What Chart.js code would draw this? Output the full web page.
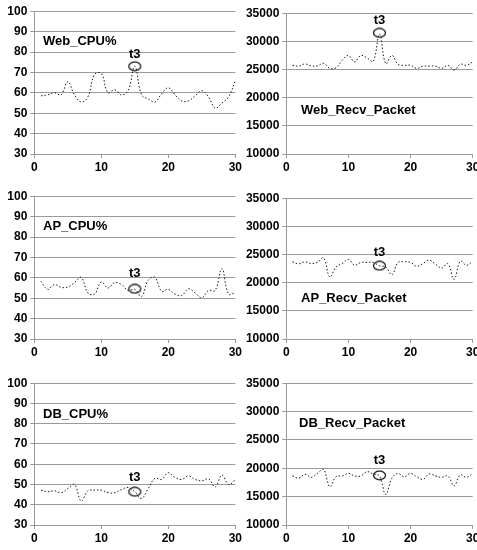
<!DOCTYPE html>
<html>
<head>
<meta charset="utf-8">
<script src="https://cdn.jsdelivr.net/npm/chart.js@4/dist/chart.umd.min.js"></script>
<style>
  html, body { margin: 0; padding: 0; background: #fff; width: 477px; height: 550px; overflow: hidden; }
  .panel { position: absolute; }
  .title { position: absolute; font: bold 13px "Liberation Sans", Arial, sans-serif; color: #000; white-space: nowrap; line-height: 13px; }
</style>
</head>
<body>
<script>
// ---------- data ----------
const times = [1,2,3,4,5,6,7,8,9,10,11,12,13,14,15,16,17,18,19,20,21,22,23,24,25,26,27,28,29,30];
const xTicks = [0, 10, 20, 30];
const cpuTicks = [30, 40, 50, 60, 70, 80, 90, 100];
const packetTicks = [10000, 15000, 20000, 25000, 30000, 35000];

const webCpu = [58.5, 59, 60, 59, 65.5, 59, 55.5, 58, 69, 69.5, 60, 61.5, 59, 61, 73, 59, 57, 55.5, 59.5, 62.5, 59, 56, 56, 58.5, 61, 58, 52.5, 55, 58, 66];
const webRecv = [25750, 25600, 26000, 25650, 25650, 26100, 25200, 25300, 26650, 27500, 26350, 27500, 27050, 26450, 31300, 26050, 27500, 25900, 25750, 25750, 25200, 25600, 25600, 25600, 25200, 25750, 24900, 25950, 25750, 26350];
const apCpu = [58.3, 54.3, 56.7, 55.3, 55.5, 57.7, 60.2, 52.6, 52, 58, 55, 57.7, 56.7, 53.8, 54.3, 50.8, 58.8, 60.2, 53.4, 54.3, 52, 51.3, 54.6, 52.6, 50.2, 53.8, 53.8, 64.5, 52, 52.8];
const apRecv = [23700, 23350, 23700, 23400, 23600, 24400, 21000, 22800, 23400, 24100, 23100, 23600, 23600, 23600, 23000, 22800, 21400, 23600, 23700, 23600, 22900, 23400, 24000, 23300, 22600, 23400, 20600, 23800, 23100, 23800];
const dbCpu = [47.2, 46.4, 46.9, 45.9, 48, 50, 41.8, 46.9, 47.2, 47.2, 46, 45.9, 47.5, 48.5, 46.4, 43.1, 48, 53, 52.5, 55.8, 53.5, 52.5, 54.2, 52.5, 51.8, 52.8, 48.8, 54.6, 50, 52.2];
const dbRecv = [18650, 18250, 18950, 18400, 19100, 19800, 16750, 18500, 18650, 19100, 18650, 18650, 19400, 19000, 18650, 15400, 18250, 19100, 18500, 19100, 18500, 18050, 19000, 18650, 18400, 18650, 16900, 18850, 18400, 19100];

const titles = ["Web_CPU%", "Web_Recv_Packet", "AP_CPU%", "AP_Recv_Packet", "DB_CPU%", "DB_Recv_Packet"];
const markerTime = 15;
const markerLabel = "t3";
const markerValues = [73, 31500, 54.6, 23000, 46.4, 18750];

// ---------- layout (styles only) ----------
const panels = [
  { series: webCpu,  ticks: cpuTicks,    left: 0,   plotTop: 11,    plotBottom: 153.5, axisW: 34.3, right: 235.3, titleX: 43,  titleY: 34,  labelOff: 12 },
  { series: webRecv, ticks: packetTicks, left: 240, plotTop: 13,    plotBottom: 154,   axisW: 46.3, right: 472.7, titleX: 301, titleY: 103, labelOff: 12 },
  { series: apCpu,   ticks: cpuTicks,    left: 0,   plotTop: 196,   plotBottom: 339.3, axisW: 34.3, right: 235.3, titleX: 43,  titleY: 219, labelOff: 15 },
  { series: apRecv,  ticks: packetTicks, left: 240, plotTop: 198.3, plotBottom: 339.3, axisW: 46.3, right: 472.7, titleX: 301, titleY: 291, labelOff: 13 },
  { series: dbCpu,   ticks: cpuTicks,    left: 0,   plotTop: 383.3, plotBottom: 525,   axisW: 34.3, right: 235.3, titleX: 43,  titleY: 407, labelOff: 14 },
  { series: dbRecv,  ticks: packetTicks, left: 240, plotTop: 383.3, plotBottom: 525,   axisW: 46.3, right: 472.7, titleX: 299, titleY: 416, labelOff: 15 }
];

const PAD_TOP = 10, X_AXIS_H = 24, CANVAS_W = 250;
const tickFont = { family: "'Liberation Sans', Arial, sans-serif", size: 12, weight: 'bold' };
const gridColor = '#9a9a9a';

// elliptical marker image
function makeEllipse() {
  const c = document.createElement('canvas');
  c.width = 15; c.height = 11;
  const g = c.getContext('2d');
  g.strokeStyle = '#111';
  g.lineWidth = 1.2;
  g.beginPath();
  g.ellipse(7.5, 5.5, 6, 4.3, 0, 0, Math.PI * 2);
  g.stroke();
  return c;
}
const ellipseImg = makeEllipse();

const markerLabelPlugin = {
  id: 'markerLabel',
  afterDatasetsDraw(chart) {
    const meta = chart.getDatasetMeta(1);
    const el = meta.data[0];
    if (!el) return;
    const off = chart.options.plugins.markerLabel.offset;
    const ctx = chart.ctx;
    ctx.save();
    ctx.font = "bold 13px 'Liberation Sans', Arial, sans-serif";
    ctx.fillStyle = '#000';
    ctx.textAlign = 'center';
    ctx.textBaseline = 'middle';
    ctx.fillText(markerLabel, el.x, el.y - off);
    ctx.restore();
  }
};

panels.forEach((p, i) => {
  const plotH = p.plotBottom - p.plotTop;
  const H = Math.round(PAD_TOP + plotH + X_AXIS_H);
  const div = document.createElement('div');
  div.className = 'panel';
  div.style.left = p.left + 'px';
  div.style.top = (p.plotTop - PAD_TOP) + 'px';
  div.style.width = CANVAS_W + 'px';
  div.style.height = H + 'px';
  const cv = document.createElement('canvas');
  cv.width = CANVAS_W; cv.height = H;
  cv.style.width = CANVAS_W + 'px'; cv.style.height = H + 'px';
  div.appendChild(cv);
  document.body.appendChild(div);

  const t = document.createElement('div');
  t.className = 'title';
  t.style.left = p.titleX + 'px';
  t.style.top = p.titleY + 'px';
  t.textContent = titles[i];
  document.body.appendChild(t);

  const yMin = p.ticks[0], yMax = p.ticks[p.ticks.length - 1];
  const chartAreaRight = p.right - p.left;

  new Chart(cv, {
    type: 'line',
    data: {
      datasets: [
        {
          data: times.map((x, k) => ({ x: x, y: p.series[k] })),
          borderColor: '#1a1a1a',
          borderWidth: 1,
          borderDash: [1.5, 2],
          pointRadius: 0,
          tension: 0.4,
          fill: false
        },
        {
          data: [{ x: markerTime, y: markerValues[i] }],
          showLine: false,
          pointStyle: ellipseImg,
          pointRadius: 6
        }
      ]
    },
    options: {
      responsive: false,
      animation: false,
      devicePixelRatio: 1,
      layout: { padding: { top: PAD_TOP, right: CANVAS_W - chartAreaRight, left: 0, bottom: 0 } },
      plugins: { legend: { display: false }, tooltip: { enabled: false }, markerLabel: { offset: p.labelOff } },
      scales: {
        x: {
          type: 'linear',
          min: 0, max: 30,
          afterBuildTicks: s => { s.ticks = xTicks.map(v => ({ value: v })); },
          afterFit: s => { s.height = X_AXIS_H; },
          grid: { drawOnChartArea: false, drawTicks: true, tickLength: 4, color: gridColor },
          border: { display: true, color: gridColor, width: 1 },
          ticks: { font: tickFont, color: '#000', padding: 2, maxRotation: 0, autoSkip: false, callback: v => String(v) }
        },
        y: {
          type: 'linear',
          min: yMin, max: yMax,
          afterBuildTicks: s => { s.ticks = p.ticks.map(v => ({ value: v })); },
          afterFit: s => { s.width = p.axisW; },
          grid: { drawOnChartArea: true, drawTicks: true, tickLength: 4, color: gridColor },
          border: { display: true, color: gridColor, width: 1 },
          ticks: { font: tickFont, color: '#000', padding: 3, autoSkip: false, callback: v => String(v) }
        }
      }
    },
    plugins: [markerLabelPlugin]
  });
});
</script>
</body>
</html>
